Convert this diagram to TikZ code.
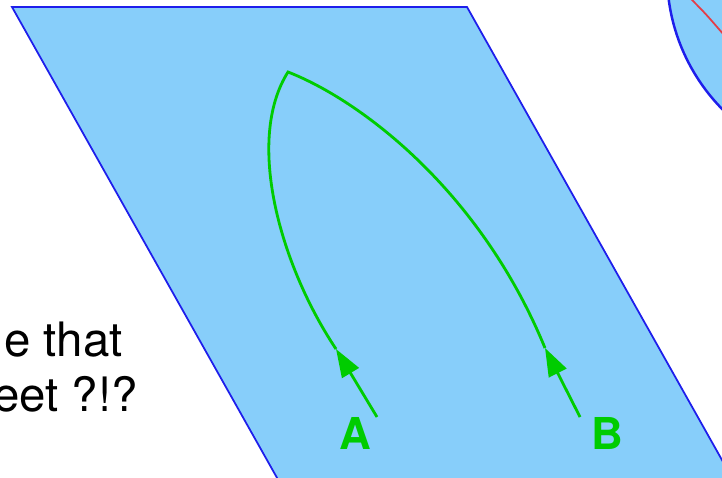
\documentclass[tikz,border=0pt]{standalone}
\usepackage{fontspec}
\setmainfont{TeX Gyre Heros}
\usepackage{xcolor}
\usepackage{tikz}
\usetikzlibrary{arrows.meta}
\definecolor{skyfill}{RGB}{135,206,250}
\definecolor{edgeblue}{RGB}{30,30,235}
\definecolor{pathgreen}{RGB}{0,204,0}
\definecolor{ringred}{RGB}{228,60,70}
\tikzset{
  %% Light blue plane
  plane/.style={fill=skyfill, draw=edgeblue, line width=1pt},
  %% Green curve
  gpath/.style={draw=pathgreen, line width=1.6pt, line join=miter},
  %% Green arrow
  garr/.style={-{Triangle[length=16pt,width=11pt]},
               draw=pathgreen, line width=1.6pt},
  %% End point label
  plbl/.style={text=pathgreen, inner sep=0pt,
               font=\fontsize{25}{25}\selectfont\bfseries},
  %% Cut off side text
  side/.style={inner sep=0pt, anchor=base east,
               font=\fontsize{27}{31}\selectfont},
}

\begin{document}
\begin{tikzpicture}[x=0.02cm, y=-0.02cm]

  \useasboundingbox (0,0) rectangle (722,477);
  \clip (0,0) rectangle (722,477);

  %% Plane
  \draw[plane] (12,7) -- (467,7) -- (740,492) -- (285,492) -- cycle;

  %% Sphere at the corner
  \draw[fill=skyfill, draw=edgeblue, line width=1.4pt] (860,-26) circle (193);
  \draw[ringred, line width=1pt] (690,-2) .. controls (705,13) .. (724,35);

  %% Text
  \node[side] (line1) at (123,356) {e that};
  \node[side] (line2) at (138,411) {eet ?!?};

  %% Points
  \coordinate (atip) at (336,349);
  \coordinate (btip) at (545,348);
  \coordinate (apex) at (288,72);
  \coordinate (atail) at (377,417);
  \coordinate (btail) at (580,417);
  \node[plbl] (A) at (355,433) {A};
  \node[plbl] (B) at (607,433) {B};

  %% Curve
  \draw[gpath] (atip) .. controls (280,265) and (245,140) .. (apex)
               .. controls (360,100) and (480,190) .. (btip);

  %% Arrows
  \draw[garr] (atail) -- (atip);
  \draw[garr] (btail) -- (btip);

\end{tikzpicture}
\end{document}
